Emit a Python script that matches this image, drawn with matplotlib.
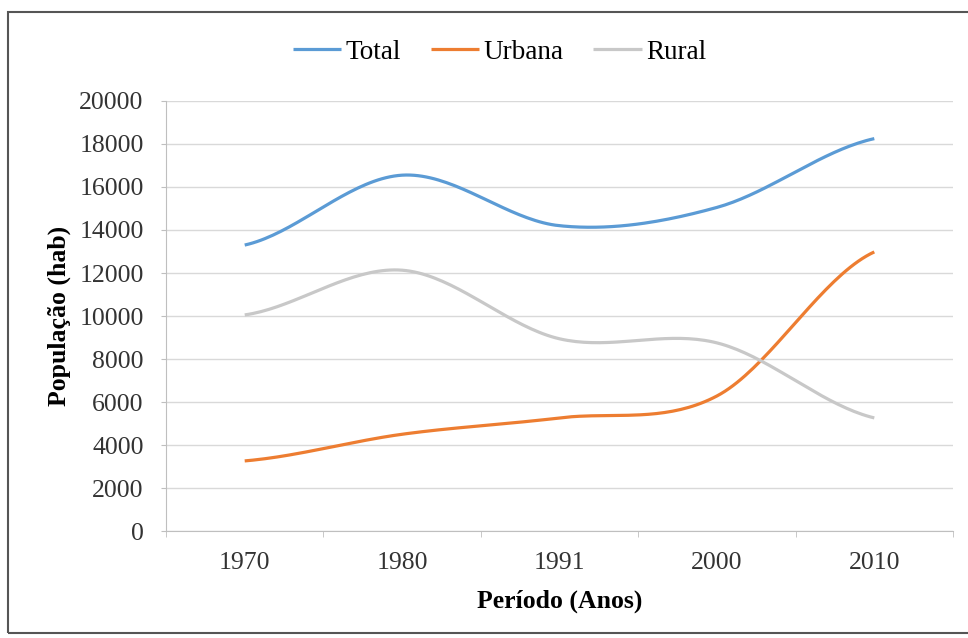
import numpy as np
import matplotlib
matplotlib.use("Agg")
import matplotlib.pyplot as plt
from matplotlib.patches import Rectangle

plt.rcParams['font.family'] = ['Liberation Serif', 'DejaVu Serif']

# Census periods and population per group
periods = ["1970", "1980", "1991", "2000", "2010"]
total = [13300, 16550, 14200, 15050, 18250]
urbana = [3260, 4500, 5260, 6280, 12980]
rural = [10050, 12130, 8940, 8750, 5260]

series = [("Total", total, "#5B9BD5"),
          ("Urbana", urbana, "#ED7D31"),
          ("Rural", rural, "#C8C8C8")]


def smooth(xs, ys, steps=40):
    # Catmull-Rom curve through every point, like spreadsheet "smoothed line"
    xs = np.asarray(xs, float)
    ys = np.asarray(ys, float)
    px = np.concatenate([[2 * xs[0] - xs[1]], xs, [2 * xs[-1] - xs[-2]]])
    py = np.concatenate([[ys[0]], ys, [ys[-1]]])
    outx, outy = [], []
    t = np.linspace(0, 1, steps)
    for i in range(1, len(px) - 2):
        p0, p1, p2, p3 = [np.array([px[j], py[j]]) for j in range(i - 1, i + 3)]
        c1 = p1 + (p2 - p0) / 6
        c2 = p2 - (p3 - p1) / 6
        b = ((1 - t) ** 3)[:, None] * p1 + (3 * (1 - t) ** 2 * t)[:, None] * c1 \
            + (3 * (1 - t) * t ** 2)[:, None] * c2 + (t ** 3)[:, None] * p2
        outx.extend(b[:, 0])
        outy.extend(b[:, 1])
    return outx, outy


fig = plt.figure(figsize=(9.68, 6.38), dpi=100)
ax = fig.add_axes([0.1715, 0.1677, 0.813, 0.674])

x = np.arange(len(periods))
for name, vals, color in series:
    sx, sy = smooth(x, vals)
    ax.plot(sx, sy, color=color, lw=2.3, label=name, solid_capstyle="butt")

ax.set_xlim(-0.5, len(periods) - 0.5)
ax.set_ylim(0, 20000)
ax.set_yticks(range(0, 20001, 2000))
ax.set_xticks(x)
ax.set_xticklabels(periods)
ax.set_xticks(np.arange(-0.5, len(periods)), minor=True)
ax.tick_params(axis="x", which="major", length=0, pad=15, labelsize=18.5, colors="#333333")
ax.tick_params(axis="x", which="minor", length=4, color="#BFBFBF")
ax.tick_params(axis="y", length=3.6, pad=12.5, labelsize=18.5, colors="#333333")
ax.tick_params(axis="y", color="#BFBFBF")

ax.grid(axis="y", color="#D9D9D9", lw=1)
ax.set_axisbelow(True)
for side in ["top", "right"]:
    ax.spines[side].set_visible(False)
for side in ["left", "bottom"]:
    ax.spines[side].set_color("#BFBFBF")

ax.set_xlabel("Período (Anos)", fontsize=18.5, fontweight="bold", labelpad=11)
ax.set_ylabel("População (hab)", fontsize=18.5, fontweight="bold", labelpad=6)

ax.legend(loc="center", bbox_to_anchor=(0.516, 0.918), bbox_transform=fig.transFigure,
          ncol=3, frameon=False, fontsize=19.5, handlelength=1.8, handletextpad=0.15,
          columnspacing=1.1)

# outer chart frame
fig.patches.append(Rectangle((8 / 968, 5 / 638), 1.2, 621 / 638, transform=fig.transFigure,
                             fill=False, edgecolor="#555555", lw=1.5))

fig.savefig("out.png", dpi=100)
